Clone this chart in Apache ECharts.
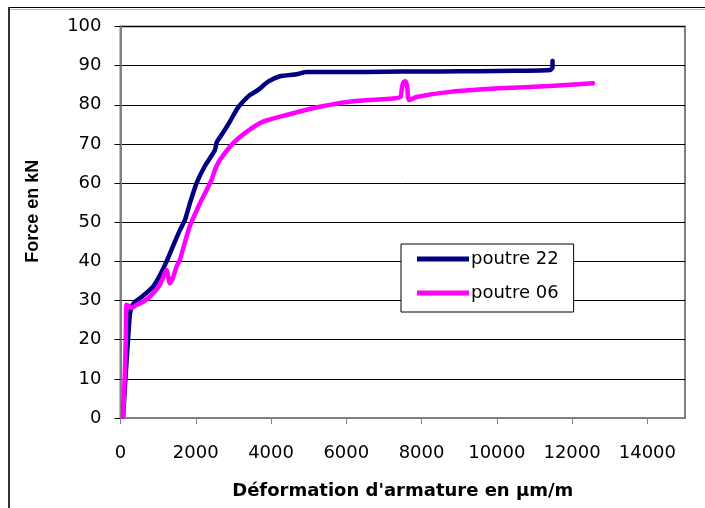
<!DOCTYPE html>
<html>
<head>
<meta charset="utf-8">
<script src="https://cdn.jsdelivr.net/npm/echarts@6/dist/echarts.min.js"></script>
<style>
html,body{margin:0;padding:0;background:#fff;}
#chart{width:705px;height:508px;}
</style>
</head>
<body>
<div id="chart"></div>
<script>
// Data
const seriesNames = ['poutre 22', 'poutre 06'];
const poutre22 = [[70,0.4],[130,10],[200,20],[250,26.5],[300,28.5],[400,29.8],[560,30.9],[870,33.6],[1050,36.5],[1224,40],[1400,44],[1578,48],[1710,50.5],[1850,55],[2021,60],[2250,64.5],[2507,68.4],[2560,70.5],[2700,72.5],[2906,75.7],[3100,79],[3216,80.4],[3437,82.5],[3658,83.8],[3923,85.9],[4234,87.3],[4677,87.8],[4943,88.4],[5500,88.4],[6500,88.4],[7500,88.5],[8500,88.5],[9500,88.6],[10500,88.7],[11420,88.9],[11480,89.5],[11480,91.2]];
const poutre06 = [[70,0.4],[110,10],[140,20],[160,28.9],[220,28.6],[295,28.1],[428,28.9],[603,29.7],[780,31],[1046,34],[1224,37.8],[1312,34.4],[1400,36],[1490,38.7],[1578,40.4],[1700,44.5],[1843,49],[2109,54.8],[2419,60.8],[2507,63.3],[2640,65.9],[2993,70.2],[3349,73.1],[3791,75.7],[4411,77.4],[5296,79.5],[6093,80.8],[7244,81.6],[7440,82],[7480,84.5],[7520,85.8],[7580,86],[7620,84.5],[7640,82],[7670,81.2],[7865,82],[8750,83.3],[10077,84.2],[11405,84.8],[12555,85.5]];
const xAxisTitle = "Déformation d'armature en µm/m";
const yAxisTitle = 'Force en kN';

const chart = echarts.init(document.getElementById('chart'), null, {renderer: 'canvas'});
const option = {
  animation: false,
  backgroundColor: '#fff',
  graphic: [
    {type: 'line', shape: {x1: 9, y1: 7.5, x2: 705, y2: 7.5}, style: {stroke: '#000', lineWidth: 1}, z: 100},
    {type: 'line', shape: {x1: 10, y1: 9.5, x2: 705, y2: 9.5}, style: {stroke: '#bbb', lineWidth: 1}, z: 100},
    {type: 'line', shape: {x1: 9, y1: 7, x2: 9, y2: 508}, style: {stroke: '#333', lineWidth: 2}, z: 100}
  ],
  grid: {left: 120.5, right: 20, top: 26.5, bottom: 90, show: true, borderColor: '#808080', borderWidth: 2, backgroundColor: 'transparent'},
  legend: {
    data: seriesNames,
    orient: 'vertical',
    left: 401, top: 244,
    icon: 'rect',
    itemWidth: 52, itemHeight: 5,
    itemGap: 14,
    padding: [5, 15, 9, 16],
    backgroundColor: '#fff',
    borderColor: '#000', borderWidth: 1,
    textStyle: {fontFamily: 'DejaVu Sans', fontSize: 18, color: '#000', lineHeight: 20, padding: [0,0,0,-3]}
  },
  xAxis: {
    type: 'value', min: 0, max: 15000, interval: 2000,
    name: xAxisTitle, nameLocation: 'middle', nameGap: 64,
    nameTextStyle: {fontFamily: 'DejaVu Sans', fontWeight: 'bold', fontSize: 18, color: '#000'},
    axisLine: {show: true, lineStyle: {color: '#808080', width: 2}},
    axisTick: {show: true, inside: false, length: 6, lineStyle: {color: '#808080', width: 1}},
    axisLabel: {margin: 26, fontFamily: 'DejaVu Sans', fontSize: 18, color: '#000', showMaxLabel: false,
      formatter: function (v) { return String(v); }},
    splitLine: {show: false}
  },
  yAxis: {
    type: 'value', min: 0, max: 100, interval: 10,
    name: yAxisTitle, nameLocation: 'middle', nameGap: 78,
    nameTextStyle: {fontFamily: 'Liberation Sans', fontWeight: 'bold', fontSize: 18, color: '#000', padding: [0, 0, 0, 22]},
    axisLine: {show: true, lineStyle: {color: '#808080', width: 2}},
    axisTick: {show: true, inside: false, length: 6, lineStyle: {color: '#000', width: 1}},
    axisLabel: {margin: 19, fontFamily: 'DejaVu Sans', fontSize: 18, color: '#000'},
    splitLine: {show: true, lineStyle: {color: '#000', width: 1}}
  },
  series: [
    {name: seriesNames[0], type: 'line', data: poutre22, showSymbol: false, smooth: 0.2,
     itemStyle: {color: '#000080'}, lineStyle: {color: '#000080', width: 4.5, cap: 'round', join: 'round'}, z: 3},
    {name: seriesNames[1], type: 'line', data: poutre06, showSymbol: false, smooth: 0.2,
     itemStyle: {color: '#FF00FF'}, lineStyle: {color: '#FF00FF', width: 4.5, cap: 'round', join: 'round'}, z: 4}
  ]
};
chart.setOption(option);
</script>
</body>
</html>
